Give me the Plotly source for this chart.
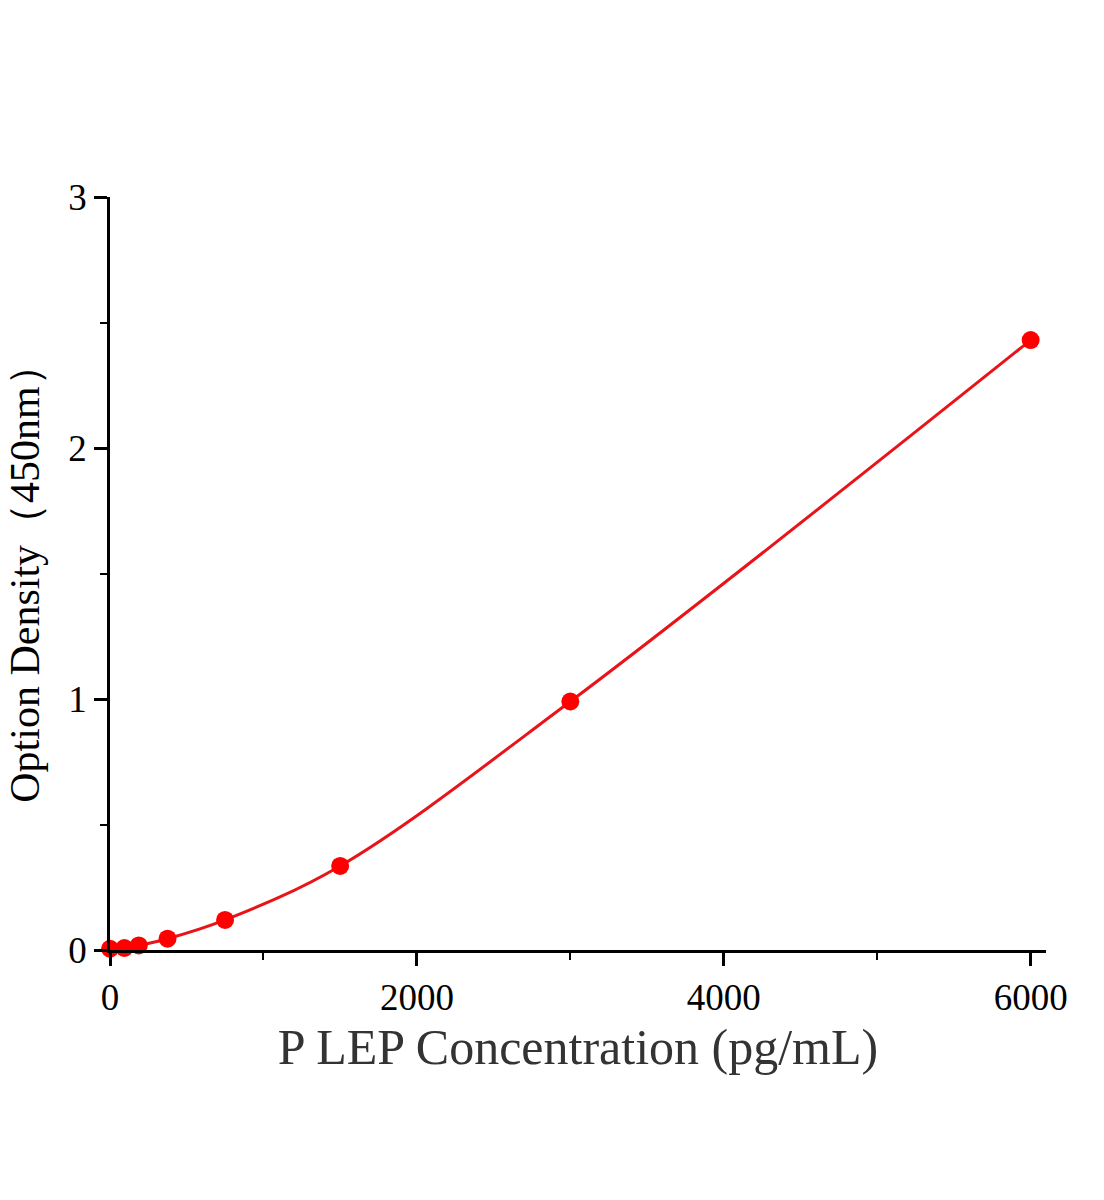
import plotly.graph_objects as go

conc = [0, 93.75, 187.5, 375, 750, 1500, 3000, 6000]
od = [0.005, 0.008, 0.018, 0.045, 0.12, 0.335, 0.99, 2.43]

x_ticks = [0, 2000, 4000, 6000]
y_ticks = [0, 1, 2, 3]

fig = go.Figure()
fig.add_trace(go.Scatter(
    x=conc, y=od, mode="lines+markers",
    line=dict(color="#e8141a", width=3, shape="spline", smoothing=1.0),
    marker=dict(color="#ff0000", size=18),
    cliponaxis=False, showlegend=False,
))

axis_common = dict(
    showgrid=False, zeroline=False, showline=True, linecolor="black", linewidth=2.5,
    ticks="outside", ticklen=13, tickwidth=2.5, tickcolor="black",
    tickfont=dict(family="Liberation Serif", size=37, color="black"),
    minor=dict(ticks="outside", ticklen=7, tickwidth=2, tickcolor="black"),
)

fig.update_xaxes(
    range=[0, 6100], tickvals=x_ticks, ticktext=[str(v) for v in x_ticks],
    minor_tickvals=[1000, 3000, 5000],
    title=dict(text="P LEP Concentration (pg/mL)",
               font=dict(family="Liberation Serif", size=50, color="#333333"), standoff=12),
    **axis_common,
)
fig.update_yaxes(
    range=[0, 3], tickvals=y_ticks, ticktext=[str(v) for v in y_ticks],
    minor_tickvals=[0.5, 1.5, 2.5],
    title=dict(text="Option Density（450nm）",
               font=dict(family="Liberation Serif", size=42, color="black"), standoff=16),
    **axis_common,
)

fig.update_layout(
    width=1104, height=1200,
    margin=dict(l=110, r=58, t=197, b=250),
    plot_bgcolor="white", paper_bgcolor="white",
)

fig.write_html("out.html")
